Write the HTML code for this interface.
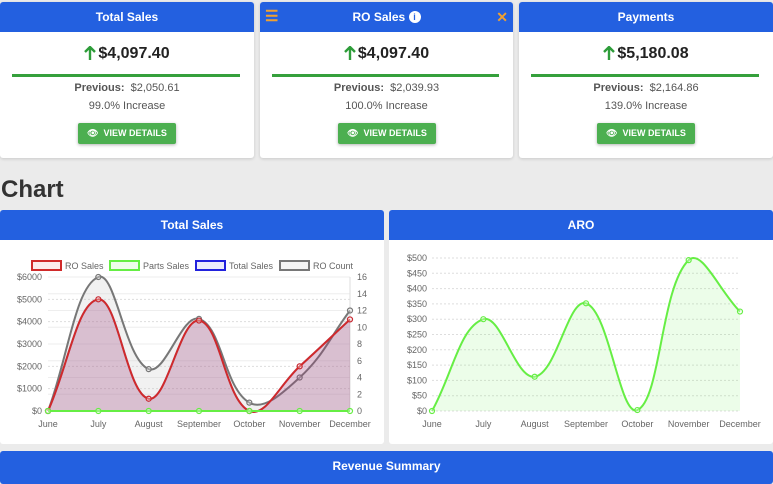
<!DOCTYPE html>
<html><head><meta charset="utf-8"><style>
*{box-sizing:border-box;margin:0;padding:0}
body{width:773px;height:484px;background:#ebebeb;font-family:"Liberation Sans",sans-serif;position:relative;overflow:hidden;color:#333}
.card{position:absolute;top:2px;width:254px;height:156px;background:#fff;border-radius:3px;box-shadow:0 1px 3px rgba(0,0,0,.15)}
.hdr{height:30px;background:#2360e0;color:#fff;font-weight:bold;font-size:12px;text-align:center;line-height:30px;border-radius:3px 3px 0 0;position:relative}
.val{position:absolute;top:43px;width:100%;text-align:center;font-size:16px;font-weight:bold;color:#222}
.val svg{vertical-align:-2px;margin-right:2px}
.bar{position:absolute;top:72px;left:12px;right:14px;height:3px;background:#35a03c}
.prev{position:absolute;top:80px;width:100%;text-align:center;font-size:11px;color:#555}
.inc{position:absolute;top:98px;width:100%;text-align:center;font-size:11px;color:#555}
.btn{position:absolute;top:121px;left:78px;width:98px;height:21px;background:#4caf50;color:#fff;font-size:9px;font-weight:bold;text-align:center;line-height:21px;border-radius:2px;box-shadow:0 1px 3px rgba(0,0,0,.3)}
.panel{position:absolute;top:210px;height:234px;background:#fff;border-radius:3px}
h1{position:absolute;left:1px;top:176px;font-size:24px;font-weight:bold;color:#333}
.rev{position:absolute;left:0;top:451px;width:773px;height:33px;background:#2360e0;color:#fff;font-weight:bold;font-size:12px;text-align:center;line-height:30px;border-radius:3px}
#s text{font-family:"Liberation Sans",sans-serif;font-size:9px;fill:#666}
</style></head><body>
<div class="card" style="left:0"><div class="hdr">Total Sales</div>
<div class="val"><svg width="12" height="14" viewBox="0 0 12 14"><path d="M6 1V14M1 6L6 1L11 6" stroke="#2e9d3a" stroke-width="2.4" fill="none"/></svg>$4,097.40</div><div class="bar"></div>
<div class="prev"><b>Previous:</b>&nbsp; $2,050.61</div><div class="inc">99.0% Increase</div>
<div class="btn">👁&nbsp; VIEW DETAILS</div></div>
<div class="card" style="left:260px;width:253px"><div class="hdr"><span style="position:absolute;left:5px;color:#f0a030;font-size:15px">☰</span>RO Sales <span style="display:inline-block;width:12px;height:12px;border-radius:50%;background:#fff;color:#2360e0;font-size:9px;line-height:12px;vertical-align:1px">i</span><span style="position:absolute;right:5px;color:#f0a030;font-size:14px">✕</span></div>
<div class="val"><svg width="12" height="14" viewBox="0 0 12 14"><path d="M6 1V14M1 6L6 1L11 6" stroke="#2e9d3a" stroke-width="2.4" fill="none"/></svg>$4,097.40</div><div class="bar"></div>
<div class="prev"><b>Previous:</b>&nbsp; $2,039.93</div><div class="inc">100.0% Increase</div>
<div class="btn">👁&nbsp; VIEW DETAILS</div></div>
<div class="card" style="left:519px"><div class="hdr">Payments</div>
<div class="val"><svg width="12" height="14" viewBox="0 0 12 14"><path d="M6 1V14M1 6L6 1L11 6" stroke="#2e9d3a" stroke-width="2.4" fill="none"/></svg>$5,180.08</div><div class="bar"></div>
<div class="prev"><b>Previous:</b>&nbsp; $2,164.86</div><div class="inc">139.0% Increase</div>
<div class="btn">👁&nbsp; VIEW DETAILS</div></div>
<h1>Chart</h1>
<div class="panel" style="left:0;width:384px"><div class="hdr">Total Sales</div></div>
<div class="panel" style="left:389px;width:384px"><div class="hdr">ARO</div></div>
<div class="rev">Revenue Summary</div>
<svg id="s" width="773" height="484" style="position:absolute;left:0;top:0"></svg>
<script>
const months=["June","July","August","September","October","November","December"];
const roSales=[0,5000,550,4050,0,2000,4100];
const partsSales=[0,0,0,0,0,0,0];
const totalSales=[0,5000,550,4050,0,2000,4100];
const roCount=[0,16,5,11,1,4,12];
const leftTicks=[0,1000,2000,3000,4000,5000,6000];
const rightTicks=[0,2,4,6,8,10,12,14,16];
const aro=[0,300,112,352,3,493,325];
const aroTicks=[0,50,100,150,200,250,300,350,400,450,500];
const svg=document.getElementById('s');const NS='http://www.w3.org/2000/svg';
function el(t,a,p){const e=document.createElementNS(NS,t);for(const k in a)e.setAttribute(k,a[k]);(p||svg).appendChild(e);return e;}
function spline(pts){let d='M'+pts[0][0]+','+pts[0][1];const t=0.4;
 const cps=pts.map((p,i)=>{const a=pts[Math.max(i-1,0)],c=pts[Math.min(i+1,pts.length-1)];
  const d01=Math.hypot(p[0]-a[0],p[1]-a[1]),d12=Math.hypot(c[0]-p[0],c[1]-p[1]);
  let fa=d01/(d01+d12||1),fb=d12/(d01+d12||1);fa*=t;fb*=t;
  return [[p[0]-fa*(c[0]-a[0]),p[1]-fa*(c[1]-a[1])],[p[0]+fb*(c[0]-a[0]),p[1]+fb*(c[1]-a[1])]];});
 for(let i=1;i<pts.length;i++){const c1=cps[i-1][1],c2=cps[i][0];d+=` C${c1[0]},${c1[1]} ${c2[0]},${c2[1]} ${pts[i][0]},${pts[i][1]}`;}return d;}
function series(vals,xf,yf,y0,stroke,fill,name,tension){
 const pts=vals.map((v,i)=>[xf(i),yf(v)]);const d=tension?spline(pts):'M'+pts.map(p=>p.join(',')).join('L');
 if(fill){const a=el('path',{d:d+`L${pts[pts.length-1][0]},${y0}L${pts[0][0]},${y0}Z`,fill:fill});
 
 }
 const l=el('path',{d:d,fill:'none',stroke:stroke,'stroke-width':2});
 
 
 pts.forEach(p=>{const c=el('circle',{cx:p[0],cy:p[1],r:2.5,fill:'rgba(255,255,255,.3)',stroke:stroke,'stroke-width':1.2});
 
 });}
const L0=48,L1=350,Y0=411,Y1=277;
const lx=i=>L0+i*(L1-L0)/(months.length-1);
const ly=v=>Y0-(v/6000)*(Y0-Y1);
const ry=v=>Y0-(v/16)*(Y0-Y1);
leftTicks.forEach(v=>{el('line',{x1:L0,x2:L1,y1:ly(v),y2:ly(v),stroke:'#ddd','stroke-dasharray':'2,2'});
 const t=el('text',{x:42,y:ly(v)+3,'text-anchor':'end'});t.textContent='$'+v;
 
 });
rightTicks.forEach(v=>{el('line',{x1:L0,x2:L1,y1:ry(v),y2:ry(v),stroke:'#eee'});
 const t=el('text',{x:357,y:ry(v)+3});t.textContent=v;
 
 });
el('line',{x1:L1,x2:L1,y1:Y1,y2:Y0,stroke:'#ddd'});
months.forEach((m,i)=>{const t=el('text',{x:lx(i),y:427,'text-anchor':'middle'});t.textContent=m;
 
 });
series(roCount,lx,ry,Y0,'#777','rgba(200,200,200,.25)','ro-count',1);
series(totalSales,lx,ly,Y0,'rgba(60,60,230,.5)','rgba(130,60,140,.15)','total-sales',1);
series(roSales,lx,ly,Y0,'#d02a2a','rgba(180,60,110,.15)','ro-sales',1);
series(partsSales,lx,ly,Y0,'#66ee44',null,'parts-sales',1);
[['RO Sales','#d02a2a','rgba(230,60,60,.1)',32],['Parts Sales','#66ee44','rgba(100,240,70,.1)',110],['Total Sales','#2222dd','rgba(60,60,230,.1)',196],['RO Count','#777','rgba(200,200,200,.2)',280]].forEach(e=>{
 const g=el('g',{});
 
 el('rect',{x:e[3],y:261,width:29,height:9,fill:e[2],stroke:e[1],'stroke-width':2},g);
 const t=el('text',{x:e[3]+33,y:269},g);t.textContent=e[0];});
const A0=432,A1=740,B1=258;
const ax=i=>A0+i*(A1-A0)/(months.length-1);
const ay=v=>Y0-(v/500)*(Y0-B1);
aroTicks.forEach(v=>{el('line',{x1:A0,x2:A1,y1:ay(v),y2:ay(v),stroke:'#ddd','stroke-dasharray':'2,2'});
 const t=el('text',{x:427,y:ay(v)+3,'text-anchor':'end'});t.textContent='$'+v;
 
 });
months.forEach((m,i)=>{const t=el('text',{x:ax(i),y:427,'text-anchor':'middle'});t.textContent=m;
 
 });
series(aro,ax,ay,Y0,'#66ee44','rgba(100,240,70,.12)','aro',1);
</script>
</body></html>
